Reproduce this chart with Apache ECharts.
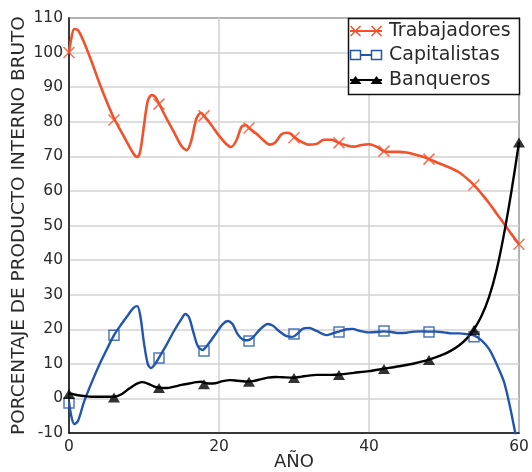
<!DOCTYPE html>
<html><head><meta charset="utf-8">
<script src="https://cdn.jsdelivr.net/npm/echarts@6/dist/echarts.min.js"></script>
<style>html,body{margin:0;padding:0;background:#fff}#c{width:532px;height:472px}</style>
</head><body><div id="c"></div>
<script>
// ---- data ----
const seriesNames = ['Trabajadores', 'Capitalistas', 'Banqueros'];
const xTicks = [0, 20, 40, 60];
const yTicks = [-10, 0, 10, 20, 30, 40, 50, 60, 70, 80, 90, 100, 110];
const markerYears = [0, 6, 12, 18, 24, 30, 36, 42, 48, 54, 60];
const trabajadoresMarkers = [100, 80.5, 85.1, 81.7, 78.2, 75.4, 73.9, 71.5, 69.2, 61.7, 44.6];
const capitalistasMarkers = [-1.3, 18.3, 11.7, 13.7, 16.6, 18.6, 19.2, 19.5, 19.2, 17.8, null];
const banquerosMarkers = [1.3, 0.3, 3.0, 4.1, 4.8, 5.9, 6.8, 8.5, 11.1, 19.8, 74];

const trabajadoresCurve = [
  [0,100],[0.3,104],[0.7,106.8],[1.2,106.5],[2,103],[3,97.5],[4,91.5],[5,86],[6,81],[7,77],[8,73],
  [8.7,70.5],[9.1,69.8],[9.5,71.5],[10,79],[10.5,86],[11,87.7],[11.5,87.2],[12,85.2],[13,81],[14,77],
  [15,73],[15.7,71.8],[16.3,74.5],[17,81],[17.6,82.6],[18,81.7],[19,79],[20,76],[21,73.5],[21.6,72.7],
  [22.3,74.5],[23,78.5],[23.6,79],[24,78.2],[25,76.5],[26,74.5],[26.8,73.4],[27.5,74],[28.3,76.3],
  [29,76.8],[29.6,76.5],[30,75.7],[31,74.2],[32,73.4],[33,73.6],[34,74.8],[35,74.8],[36,73.9],[37,73.2],
  [38,72.8],[39,73.3],[40,73.5],[41,72.8],[42,71.5],[43,71.3],[44,71.3],[45,71.1],[46,70.6],[47,70],
  [48,69.2],[49,68.3],[50,67.4],[51,66.5],[52,65.4],[53,63.7],[54,61.7],[55,59.2],[56,56.5],[57,53.5],
  [58,50.5],[59,47.5],[60,44.6]
];
const capitalistasCurve = [
  [0,-1],[0.3,-5],[0.7,-7.4],[1.2,-6.5],[2,-1],[3,4.5],[4,9.5],[5,14],[6,18.3],[7,21.5],[8,24.5],
  [8.6,26.2],[9.1,26.7],[9.5,24],[10,16],[10.5,10],[10.9,8.8],[11.5,10],[12,11.8],[13,15.5],[14,19.5],
  [15,23],[15.5,24.4],[16,23.5],[16.6,19],[17.2,15],[17.8,14],[18.5,15.5],[19.5,18.5],[20.5,21.5],
  [21.2,22.4],[21.8,21.5],[22.5,18.5],[23.2,17],[23.8,16.8],[24.5,17.6],[25.5,20],[26.5,21.5],[27.2,21],
  [28,19.5],[29,18],[29.8,17.8],[30.5,18.8],[31.2,20.2],[32,20.4],[33,19.5],[34.3,18.3],[35.3,18.9],
  [36,19.3],[37,20],[37.8,20.1],[38.8,19.5],[40,19.1],[41,19.2],[42,19.4],[43,19.2],[44,18.9],[45,19],
  [46,19.3],[47,19.4],[48,19.3],[49,19.3],[50,19.1],[51,18.8],[52,18.8],[53,18.6],[54,18.2],[55,16.8],
  [56,14.3],[57,10],[58,4.8],[58.8,-2.4],[59.5,-10],[60,-16]
];
const banquerosCurve = [
  [0,1.5],[1,1],[2,0.7],[3,0.5],[4,0.5],[5,0.5],[6,0.5],[7,1.2],[8,2.8],[9,4.2],[9.7,4.7],[10.5,4.3],
  [11.3,3.5],[12,3.1],[13,3],[14,3.4],[15,3.9],[16,4.3],[17,4.7],[17.6,4.8],[18.5,4.3],[19.5,4.4],
  [20.5,5],[21.5,5.3],[22.5,5.1],[23.5,4.9],[24.5,5],[25.5,5.5],[26.5,6],[27.5,6.2],[28.5,6.1],[30,6],
  [31,6.3],[32,6.6],[33,6.8],[34,6.8],[35,6.8],[36,6.9],[38,7.4],[40,7.9],[42,8.6],[44,9.3],[46,10.1],
  [48,11.2],[50,12.8],[51,13.9],[52,15.3],[53,17.2],[54,20],[55,23.8],[56,29.3],[57,37],[58,47.5],
  [59,60],[60,74]
];

// ---- styles ----
const RED = '#F4502A', BLUE = '#2255AD', BLACK = '#000000';
const FONT = 'DejaVu Sans';
const TXT = '#2a2a2a';
const X_PATH = 'path://M0,0L10,10M0,10L10,0';

function pairs(xs, ys) { return xs.map((x, i) => [x, ys[i]]); }

const chart = echarts.init(document.getElementById('c'), null, { renderer: 'canvas' });

const legendRows = [
  { name: seriesNames[0], y: 31, color: RED, kind: 'x' },
  { name: seriesNames[1], y: 55, color: BLUE, kind: 'sq' },
  { name: seriesNames[2], y: 80, color: BLACK, kind: 'tri' }
];
const LZ = 100;
const legendChildren = [{
  type: 'rect', z: LZ, shape: { x: 348.5, y: 18.5, width: 171, height: 76 },
  style: { fill: '#ffffff', stroke: '#111', lineWidth: 1.5 }
}];
legendRows.forEach(r => {
  legendChildren.push({ type: 'line', z: LZ + 1, shape: { x1: 350, y1: r.y, x2: 382, y2: r.y }, style: { stroke: r.color, lineWidth: 2 } });
  [355.5, 376.5].forEach(cx => {
    if (r.kind === 'x') {
      legendChildren.push({ type: 'line', z: LZ + 2, shape: { x1: cx - 5, y1: r.y - 5, x2: cx + 5, y2: r.y + 5 }, style: { stroke: r.color, lineWidth: 1.5 } });
      legendChildren.push({ type: 'line', z: LZ + 2, shape: { x1: cx - 5, y1: r.y + 5, x2: cx + 5, y2: r.y - 5 }, style: { stroke: r.color, lineWidth: 1.5 } });
    } else if (r.kind === 'sq') {
      legendChildren.push({ type: 'rect', z: LZ + 2, shape: { x: cx - 5, y: r.y - 4.5, width: 10, height: 9 }, style: { fill: '#fff', stroke: r.color, lineWidth: 1.5 } });
    } else {
      legendChildren.push({ type: 'polygon', z: LZ + 2, shape: { points: [[cx - 6, r.y + 4], [cx + 6, r.y + 4], [cx, r.y - 4]] }, style: { fill: r.color } });
    }
  });
  legendChildren.push({ type: 'text', z: LZ + 2, x: 389, y: r.y, style: { text: r.name, fill: TXT, font: '19px "' + FONT + '"', verticalAlign: 'middle', align: 'left' } });
});

chart.setOption({
  animation: false,
  backgroundColor: '#fff',
  grid: { left: 69, right: 13, top: 18, bottom: 39, show: true, borderColor: '#222', borderWidth: 1.5,
          backgroundColor: 'transparent', containLabel: false, outerBoundsMode: 'none' },
  xAxis: {
    type: 'value', min: xTicks[0], max: xTicks[xTicks.length - 1], interval: 20,
    name: 'AÑO', nameLocation: 'middle', nameGap: 20, nameMoveOverlap: false,
    nameTextStyle: { fontFamily: FONT, fontSize: 18, color: TXT },
    axisLine: { show: true, onZero: false, lineStyle: { color: '#111', width: 1.5 } },
    axisTick: { show: false },
    axisLabel: { fontFamily: FONT, fontSize: 15.5, color: TXT, margin: 6 },
    splitLine: { show: true, lineStyle: { color: '#d2d2d2', width: 1.5 } }
  },
  yAxis: {
    type: 'value', min: yTicks[0], max: yTicks[yTicks.length - 1], interval: 10,
    name: 'PORCENTAJE DE PRODUCTO INTERNO BRUTO', nameLocation: 'middle', nameGap: 40, nameMoveOverlap: false,
    nameTextStyle: { fontFamily: FONT, fontSize: 18.5, color: TXT },
    axisLine: { show: true, onZero: false, lineStyle: { color: '#111', width: 1.5 } },
    axisTick: { show: false },
    axisLabel: { fontFamily: FONT, fontSize: 15.5, color: TXT, margin: 6 },
    splitLine: { show: true, lineStyle: { color: '#d2d2d2', width: 1.5 } }
  },
  series: [
    { name: seriesNames[0], type: 'line', data: trabajadoresCurve, smooth: 0.3, showSymbol: false, clip: true,
      lineStyle: { color: RED, width: 2.6 }, itemStyle: { color: RED }, z: 2 },
    { name: seriesNames[1], type: 'line', data: capitalistasCurve, smooth: 0.3, showSymbol: false, clip: true,
      lineStyle: { color: BLUE, width: 2.4 }, itemStyle: { color: BLUE }, z: 3 },
    { name: seriesNames[2], type: 'line', data: banquerosCurve, smooth: 0.3, showSymbol: false, clip: true,
      lineStyle: { color: BLACK, width: 2.4 }, itemStyle: { color: BLACK }, z: 4 },
    { name: seriesNames[0] + ' marcas', type: 'scatter', data: pairs(markerYears, trabajadoresMarkers), clip: true,
      symbol: X_PATH, symbolSize: 11, itemStyle: { color: 'rgba(0,0,0,0)', borderColor: RED, borderWidth: 1.5 }, z: 5 },
    { name: seriesNames[1] + ' marcas', type: 'scatter', data: pairs(markerYears, capitalistasMarkers).filter(p => p[1] !== null), clip: true,
      symbol: 'rect', symbolSize: 10, itemStyle: { color: 'rgba(255,255,255,0)', borderColor: BLUE, borderWidth: 1.5 }, z: 5 },
    { name: seriesNames[2] + ' marcas', type: 'scatter', data: pairs(markerYears, banquerosMarkers), clip: true,
      symbol: 'triangle', symbolSize: [12, 10], itemStyle: { color: BLACK }, z: 6 }
  ],
  graphic: legendChildren
});
</script></body></html>
